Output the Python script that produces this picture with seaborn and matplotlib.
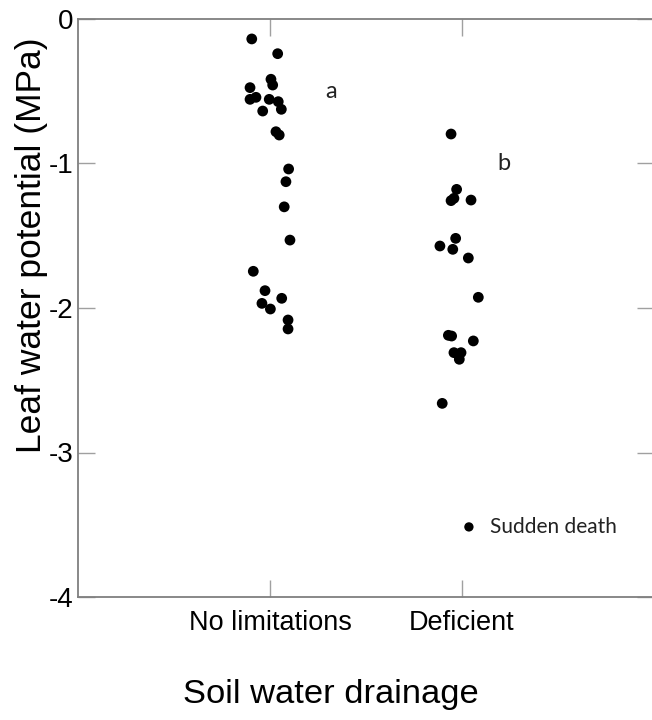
import matplotlib
matplotlib.use("Agg")
import matplotlib.pyplot as plt
import seaborn as sns
import numpy as np
import pandas as pd

# ---- data ----
categories = ["No limitations", "Deficient"]

no_lim_values = [-0.138, -0.24, -0.417, -0.457, -0.475, -0.556, -0.542, -0.556,
                 -0.572, -0.625, -0.637, -0.78, -0.803, -1.038, -1.126, -1.30,
                 -1.53, -1.746, -1.88, -1.933, -1.968, -2.007, -2.083, -2.145]
no_lim_jitter = [-0.095, 0.040, 0.005, 0.014, -0.104, -0.104, -0.073, -0.004,
                 0.043, 0.059, -0.038, 0.031, 0.048, 0.097, 0.083, 0.074,
                 0.104, -0.087, -0.026, 0.061, -0.042, 0.002, 0.094, 0.094]

deficient_values = [-0.796, -1.179, -1.257, -1.241, -1.253, -1.518, -1.571, -1.594,
                    -1.654, -1.926, -2.189, -2.194, -2.228, -2.309, -2.309, -2.355,
                    -2.66]
deficient_jitter = [-0.057, -0.028, -0.057, -0.042, 0.047, -0.033, -0.115, -0.048,
                    0.033, 0.085, -0.071, -0.054, 0.059, -0.042, -0.005, -0.014,
                    -0.103]

group_letters = ["a", "b"]
y_ticks = [0, -1, -2, -3, -4]
legend_label = "Sudden death"

# ---- build table ----
rows = []
for ci, (vals, jit) in enumerate([(no_lim_values, no_lim_jitter),
                                  (deficient_values, deficient_jitter)]):
    for v, j in zip(vals, jit):
        rows.append({"group": categories[ci], "pos": ci + j, "psi": v})
df = pd.DataFrame(rows)

sns.set_theme(style="white")
plt.rcParams["font.family"] = ["Liberation Sans", "DejaVu Sans"]
plt.rcParams["axes.unicode_minus"] = False

fig = plt.figure(figsize=(6.52, 7.2), dpi=100)
ax = fig.add_axes([78 / 652, (720 - 597) / 720, 576 / 652, 578 / 720])

sns.scatterplot(data=df, x="pos", y="psi", color="black", s=60,
                edgecolor="none", linewidth=0, ax=ax, legend=False)

ax.set_xlim(-1, 2)
ax.set_ylim(-4, 0)
ax.set_xticks(range(len(categories)))
ax.set_xticklabels(categories, fontsize=19.5)
ax.set_yticks(y_ticks)
ax.set_yticklabels([str(t) for t in y_ticks], fontsize=20)
ax.set_xlabel("")
ax.set_ylabel("")

spine_col = "#7f7f7f"
for s in ax.spines.values():
    s.set_visible(True)
    s.set_color(spine_col)
    s.set_linewidth(1.3)

ax.tick_params(axis="both", which="major", direction="in", length=12,
               width=1.0, color="#a0a0a0", top=True, right=True,
               left=True, bottom=True, labelcolor="black")
ax.tick_params(axis="y", pad=3)
ax.tick_params(axis="x", pad=9)

# group letters
calib = ["Lato", "DejaVu Sans"]
ax.text(0.32, -0.5, group_letters[0], fontsize=17, family=calib,
        ha="center", va="center", color="#222222")
ax.text(1.22, -1.0, group_letters[1], fontsize=17, family=calib,
        ha="center", va="center", color="#222222")

# legend-like marker
ax.scatter([1.036], [-3.515], s=45, color="black", edgecolor="none")
ax.text(1.145, -3.515, legend_label, fontsize=15, family=calib,
        ha="left", va="center", color="#222222")

# axis titles
fig.text(331 / 652, 1 - 694 / 720, "Soil water drainage", fontsize=24.8,
         ha="center", va="center", color="black")
fig.text(32 / 652, 1 - 245 / 720, "Leaf water potential (MPa)", fontsize=25.5,
         rotation=90, ha="center", va="center", color="black")

fig.savefig("out.png", dpi=100)
